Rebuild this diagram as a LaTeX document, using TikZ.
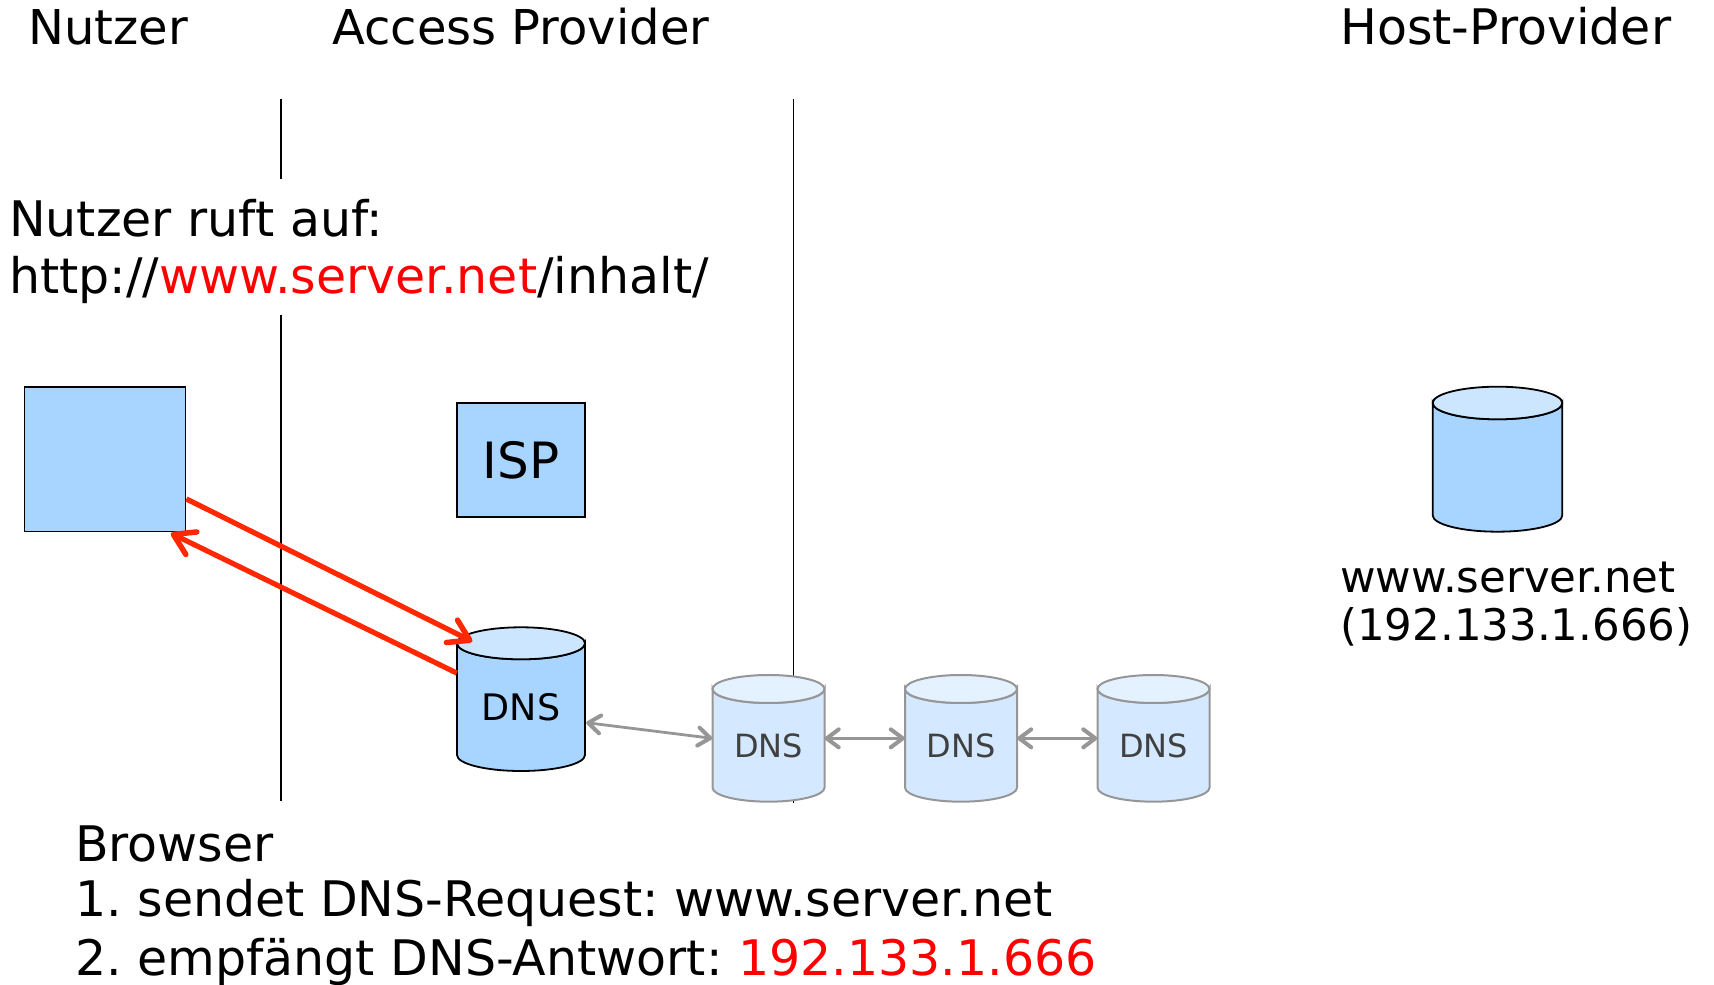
\documentclass[tikz,border=0pt]{standalone}
\usepackage{fontspec}
\setmainfont{DejaVu Sans}
\usetikzlibrary{arrows.meta,calc}

\definecolor{boxblue}{RGB}{168,213,255}
\definecolor{topblue}{RGB}{205,230,255}
\definecolor{paleblue}{RGB}{212,232,255}
\definecolor{paletop}{RGB}{228,241,255}
\definecolor{rimgray}{RGB}{150,150,150}
\definecolor{labelgray}{RGB}{64,64,64}
\definecolor{arrowred}{RGB}{255,40,0}
\definecolor{urlred}{RGB}{255,0,0}

\tikzset{
  headtxt/.style={inner sep=0pt, anchor=base west, font=\fontsize{48}{56}\selectfont},
  txt/.style={inner sep=0pt, anchor=base west, font=\fontsize{49}{57}\selectfont},
  hosttxt/.style={inner sep=0pt, anchor=base west, font=\fontsize{43.5}{49}\selectfont},
  lane/.style={draw=black, line width=1.5pt},
  bluebox/.style={draw=black, fill=boxblue, line width=1.8pt, inner sep=0pt},
  drum frame/.style={draw=none, inner sep=0pt},
  dark body/.style={draw=black, fill=boxblue, line width=1.8pt},
  dark top/.style={draw=black, fill=topblue, line width=1.8pt},
  pale body/.style={draw=rimgray, fill=paleblue, line width=2pt},
  pale top/.style={draw=rimgray, fill=paletop, line width=2pt},
  darklabel/.style={inner sep=0pt, anchor=base, font=\fontsize{36.5}{43}\selectfont},
  palelabel/.style={inner sep=0pt, anchor=base, text=labelgray, font=\fontsize{32}{38}\selectfont},
  redtip/.tip={Straight Barb[length=20pt, width=25pt, line width=5.5pt, round]},
  graytip/.tip={Straight Barb[length=12pt, width=18pt, line width=4pt, round]},
  req/.style={draw=arrowred, line width=5.2pt, -redtip},
  hop/.style={draw=rimgray, line width=2.8pt, graytip-graytip},
}

% storage drum: #1 look, #2 name, #3 centre x, #4 top y, #5 bottom y, #6 x radius, #7 y radius
\newcommand\drum[7]{%
  \path[#1 body] ({#3-#6},{#4-#7}) -- ({#3-#6},{#5+#7})
    arc[start angle=180, end angle=360, x radius=#6, y radius=#7]
    -- ({#3+#6},{#4-#7})
    arc[start angle=0, end angle=-180, x radius=#6, y radius=#7] -- cycle;
  \path[#1 top] (#3,{#4-#7}) ellipse[x radius=#6, y radius=#7];
  \node[drum frame, minimum width={2*#6}, minimum height={#4-#5}] (#2) at (#3,{(#4+#5)/2}) {};
}

\begin{document}
\frenchspacing
\begin{tikzpicture}[x=1pt, y=1pt]
\useasboundingbox (0,0) rectangle (1714,985);

% column headings
\node[headtxt] (head-user) at (28,940) {Nutzer};
\node[headtxt] (head-access) at (332,940) {Access Provider};
\node[headtxt, font=\fontsize{49}{56}\selectfont] (head-host) at (1340,940) {Host-Provider};

% column separators
\draw[lane] (281,886) -- (281,806);
\draw[lane] (281,670) -- (281,184);
\draw[lane] (793.5,886) -- (793.5,182);

% requested address
\node[txt] (call1) at (9,748.3) {Nutzer ruft auf:};
\node[txt] (call2) at (9,691.7) {http://\textcolor{urlred}{www.server.net}/inhalt/};

% user side and access provider
\node[bluebox, minimum width=161, minimum height=144.5] (browser) at (105,525.75) {};
\node[bluebox, minimum width=128, minimum height=114, font=\fontsize{50}{58}\selectfont] (isp) at (521,525) {ISP};

\drum{dark}{dnsA}{521}{357.7}{214}{64}{16}
\node[darklabel] (dnsA-text) at (521,264.3) {DNS};

% resolver chain
\drum{pale}{dns1}{768.5}{310}{183.3}{56}{14}
\node[palelabel] (dns1-text) at (768.5,227.7) {DNS};
\drum{pale}{dns2}{961}{310}{183.3}{56}{14}
\node[palelabel] (dns2-text) at (961,227.7) {DNS};
\drum{pale}{dns3}{1153.5}{310}{183.3}{56}{14}
\node[palelabel] (dns3-text) at (1153.5,227.7) {DNS};

% host provider
\drum{dark}{host}{1497.5}{598.3}{453.3}{64.8}{16.3}
\node[hosttxt] (host-name) at (1340,392.7) {www.server.net};
\node[hosttxt] (host-ip) at (1340,344) {(192.133.1.666)};

% request and answer
\coordinate (req-end) at ($(dnsA.north west)+(15.5,-14.4)$);
\coordinate (ans-start) at ($(dnsA.north west)+(0,-46)$);
\coordinate (ans-end) at ($(browser.south east)+(-15.5,-0.8)$);
\draw[req] (browser.-26.8) -- (req-end);
\draw[req] (ans-start) -- (ans-end);

% lookups between name servers
\coordinate (hop-start) at ($(dnsA.east)+(1,-23.5)$);
\draw[hop] (hop-start) -- (dns1.west);
\draw[hop] (dns1.east) -- (dns2.west);
\draw[hop] (dns2.east) -- (dns3.west);

% browser steps
\node[txt] (step0) at (75,123.3) {Browser};
\node[txt] (step1) at (75,68) {1. sendet DNS-Request: www.server.net};
\node[txt] (step2) at (75,9.3) {2. empfängt DNS-Antwort: \textcolor{urlred}{192.133.1.666}};
\end{tikzpicture}
\end{document}
